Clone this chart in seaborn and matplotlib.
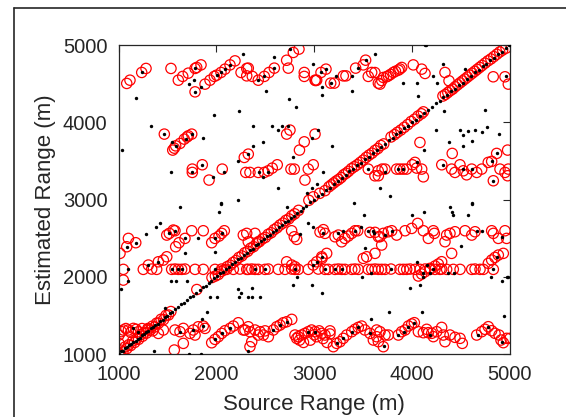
import matplotlib
matplotlib.use("Agg")
import matplotlib.pyplot as plt
from matplotlib.lines import Line2D
import numpy as np
import pandas as pd
import seaborn as sns

sns.set_theme(style="white")
plt.rcParams["font.family"] = ["Liberation Sans", "DejaVu Sans"]

# ── data (metres) ────────────────────────────────────────────────────────────
TICKS = [1000, 2000, 3000, 4000, 5000]
X_LABEL = "Source Range (m)"
Y_LABEL = "Estimated Range (m)"

# red open circles: estimates along the true range (diagonal)
red_diag = [
    (1005, 1010), (1025, 1050), (1045, 1030), (1065, 1090), (1085, 1070), (1105, 1120),
    (1125, 1110), (1145, 1170), (1165, 1150), (1185, 1200), (1205, 1190), (1225, 1250),
    (1245, 1230), (1265, 1280), (1285, 1270), (1305, 1320), (1325, 1310), (1345, 1360),
    (1370, 1350), (1390, 1400), (1410, 1400), (1435, 1450), (1460, 1445), (1485, 1500),
    (1510, 1505), (1535, 1550), (1800, 1835), (1955, 1990), (1990, 2010), (2020, 2030),
    (2050, 2070), (2080, 2090), (2110, 2130), (2140, 2150), (2170, 2185), (2200, 2210),
    (2230, 2250), (2260, 2270), (2290, 2310), (2320, 2330), (2350, 2370), (2380, 2390),
    (2410, 2430), (2440, 2455), (2470, 2490), (2500, 2510), (2530, 2550), (2560, 2570),
    (2590, 2610), (2620, 2635), (2650, 2670), (2680, 2695), (2710, 2730), (2740, 2750),
    (2770, 2790), (2800, 2815), (2840, 2860), (2945, 2990), (2990, 3035), (3055, 3080),
    (3110, 3115), (3150, 3165), (3175, 3190), (3200, 3215), (3225, 3240), (3250, 3260),
    (3275, 3285), (3300, 3320), (3325, 3340), (3350, 3365), (3380, 3400), (3410, 3425),
    (3440, 3450), (3470, 3480), (3500, 3510), (3530, 3545), (3560, 3575), (3590, 3600),
    (3620, 3635), (3650, 3660), (3680, 3700), (3710, 3720), (3785, 3810), (3820, 3840),
    (3850, 3870), (3885, 3900), (3920, 3935), (3955, 3970), (3990, 4010), (4025, 4040),
    (4060, 4080), (4095, 4110), (4115, 4135), (4315, 4340), (4340, 4360), (4365, 4385),
    (4390, 4410), (4415, 4430), (4440, 4460), (4465, 4485), (4490, 4510), (4515, 4535),
    (4540, 4560), (4565, 4585), (4590, 4610), (4615, 4635), (4640, 4660), (4665, 4685),
    (4690, 4710), (4715, 4735), (4745, 4765), (4775, 4795), (4805, 4820), (4835, 4850),
    (4865, 4880), (4895, 4910), (4925, 4935), (4960, 4960),
]

# red circles in the low band (~1100-1450 m)
red_band_low = [
    (1005, 1246), (1005, 1138), (1030, 1290), (1049, 1311), (1075, 1330), (1101, 1311),
    (1125, 1280), (1152, 1332), (1180, 1320), (1203, 1289), (1240, 1330), (1300, 1330),
    (1350, 1300), (1407, 1267), (1458, 1311), (1570, 1052), (1577, 1311), (1628, 1289),
    (1662, 1332), (1662, 1138), (1730, 1267), (1764, 1311), (1782, 1246), (1815, 1353),
    (1866, 1362), (1884, 1332), (1952, 1146), (1986, 1190), (2020, 1224), (2054, 1267),
    (2088, 1302), (2139, 1332), (2173, 1362), (2224, 1405), (2275, 1311), (2326, 1353),
    (2292, 1311), (2343, 1289), (2395, 1311), (2446, 1289), (2497, 1300), (2361, 1159),
    (2343, 1095), (2428, 1246), (2480, 1246), (2531, 1224), (2582, 1311), (2616, 1353),
    (2650, 1375), (2684, 1405), (2718, 1418), (2770, 1449), (2803, 1246), (2820, 1203),
    (2837, 1224), (2850, 1180), (2871, 1246), (2890, 1150), (2905, 1267), (2939, 1289),
    (2960, 1180), (2973, 1311), (3000, 1250), (3008, 1289), (3025, 1224), (3050, 1300),
    (3076, 1267), (3090, 1200), (3110, 1246), (3130, 1150), (3160, 1260), (3161, 1300),
    (3195, 1095), (3229, 1138), (3263, 1159), (3297, 1203), (3331, 1246), (3383, 1289),
    (3416, 1320), (3450, 1345), (3484, 1362), (3518, 1311), (3570, 1267), (3604, 1181),
    (3638, 1224), (3638, 1311), (3672, 1289), (3706, 1095), (3655, 1160), (3723, 1246),
    (3757, 1246), (3859, 1246), (3893, 1289), (3928, 1311), (3962, 1363), (3996, 1389),
    (4023, 1406), (4064, 1289), (4115, 1276), (4149, 1320), (4166, 1276), (4200, 1268),
    (4217, 1225), (4251, 1289), (4302, 1345), (4319, 1246), (4336, 1160), (4387, 1246),
    (4438, 1216), (4490, 1203), (4513, 1138), (4660, 1246), (4711, 1289), (4745, 1320),
    (4779, 1354), (4813, 1302), (4847, 1268), (4888, 1246), (4908, 1181), (4932, 1147),
    (4966, 1203), (5000, 1203),
]

# red circles on the ~2100 m line and the short rising runs through it
red_band_2100 = [
    (1049, 2096), (1253, 2096), (1339, 2100), (1390, 2096), (1543, 2096), (1577, 2100),
    (1611, 2096), (1645, 2096), (1679, 2100), (1782, 2096), (1866, 2096), (1986, 2096),
    (2054, 2100), (2105, 2096), (2173, 2096), (2241, 2100), (2310, 2096), (2326, 2096),
    (2361, 2100), (2395, 2096), (2428, 2096), (2497, 2096), (2531, 2100), (2633, 2096),
    (2701, 2096), (2770, 2100), (2803, 2096), (2837, 2096), (2939, 2096), (3041, 2100),
    (3110, 2096), (3144, 2096), (3212, 2096), (3246, 2100), (3281, 2096), (3314, 2096),
    (3383, 2096), (3416, 2100), (3450, 2096), (3552, 2096), (3587, 2096), (3621, 2100),
    (3655, 2096), (3689, 2096), (3723, 2096), (3784, 2100), (3876, 2096), (3911, 2096),
    (3945, 2096), (3979, 2100), (4030, 2096), (4081, 2096), (4132, 2100), (4183, 2096),
    (4234, 2096), (4285, 2096), (4302, 2100), (4353, 2096), (4421, 2096), (4490, 2096),
    (4609, 2096), (4643, 2100), (4694, 2096), (4728, 2096), (4830, 2096),
    (1049, 1957), (1305, 2152), (1407, 2194), (1458, 2216), (1493, 2259),
    (2718, 2194), (2770, 2152), (2803, 2130), (2990, 2152), (3025, 2194), (3076, 2259),
    (3127, 2303), (3501, 2238), (3536, 2259), (3621, 2303), (4064, 2010), (4098, 2036),
    (4132, 2066), (4183, 2109), (4234, 2139), (4268, 2165), (4302, 2195), (4404, 2303),
    (4779, 2174), (4813, 2217), (4847, 2251), (4881, 2281), (4932, 2303),
]

# red circles in the ~2300-2700 m band
red_band_2500 = [
    (1015, 2303), (1084, 2389), (1101, 2497), (1176, 2441), (1493, 2540), (1519, 2562),
    (1560, 2605), (1577, 2596), (1584, 2389), (1618, 2441), (1679, 2497), (1748, 2596),
    (1866, 2596), (1952, 2441), (1986, 2497), (2027, 2527), (2054, 2562), (2081, 2596),
    (2275, 2540), (2326, 2453), (2310, 2562), (2395, 2562), (2428, 2453), (2769, 2596),
    (2796, 2518), (2821, 2484), (3059, 2579), (3093, 2610), (3110, 2562), (3080, 2240),
    (3212, 2518), (3246, 2540), (3280, 2453), (3314, 2497), (3348, 2527), (3383, 2562),
    (3417, 2596), (3444, 2596), (3570, 2575), (3621, 2575), (3655, 2518), (3672, 2519),
    (3689, 2411), (3706, 2562), (3757, 2583), (3791, 2596), (3842, 2540), (3928, 2596),
    (3996, 2626), (4057, 2691), (4115, 2596), (4166, 2497), (4217, 2596), (4227, 2562),
    (4336, 2454), (4353, 2540), (4387, 2562), (4438, 2583), (4541, 2596), (4609, 2540),
    (4643, 2583), (4813, 2596), (4830, 2562), (4881, 2497), (4949, 2596), (4966, 2497),
]

# red circles in the ~3250-3600 m band
red_band_3400 = [
    (1754, 3394), (1754, 3351), (1856, 3450), (1925, 3252), (2060, 3394), (2285, 3545),
    (2300, 3351), (2326, 3588), (2343, 3351), (2428, 3351), (2490, 3351), (2530, 3372),
    (2571, 3407), (2622, 3450), (2762, 3394), (2796, 3394), (2905, 3252), (2939, 3394),
    (2990, 3450), (3552, 3394), (3620, 3307), (3654, 3372), (3655, 3308), (3693, 3394),
    (3723, 3394), (3842, 3394), (3876, 3394), (3910, 3394), (3944, 3394), (4002, 3450),
    (4029, 3481), (4046, 3407), (4098, 3394), (4115, 3294), (4303, 3450), (4404, 3394),
    (4438, 3351), (4489, 3450), (4523, 3372), (4557, 3320), (4609, 3394), (4660, 3351),
    (4711, 3394), (4778, 3481), (4813, 3494), (4830, 3243), (4898, 3394), (4949, 3351),
    (4983, 3394), (4976, 3308),
]

# red circles in the ~3600-3900 m band
red_band_3750 = [
    (1468, 3847), (1554, 3640), (1570, 3665), (1584, 3695), (1628, 3726), (1672, 3782),
    (1700, 3810), (1713, 3825), (1748, 3847), (2718, 3847), (2752, 3899), (2849, 3640),
    (2898, 3747), (3008, 3847), (4080, 3739), (4410, 3597), (4864, 3597), (4976, 3640),
]

# red circles in the top band (~4350-4950 m)
red_band_top = [
    (1084, 4503), (1117, 4545), (1237, 4645), (1281, 4697), (1536, 4697), (1611, 4545),
    (1656, 4594), (1713, 4636), (1782, 4697), (1799, 4710), (1843, 4743), (1782, 4394),
    (1884, 4494), (1935, 4545), (1979, 4594), (2003, 4610), (2047, 4645), (2088, 4688),
    (2139, 4743), (2190, 4795), (2252, 4645), (2310, 4697), (2786, 4904), (2844, 4947),
    (2326, 4701), (2310, 4601), (2367, 4594), (2428, 4545), (2490, 4594), (2538, 4645),
    (2592, 4701), (2718, 4803), (2735, 4701), (2898, 4645), (2898, 4594), (3008, 4545),
    (3015, 4540), (3025, 4545), (3069, 4645), (3120, 4688), (3168, 4507), (3205, 4507),
    (3297, 4601), (3324, 4601), (3423, 4701), (3501, 4743), (3525, 4804), (3587, 4645),
    (3552, 4594), (3655, 4506), (3620, 4644), (3672, 4494), (3690, 4540), (3706, 4580),
    (3740, 4590), (3757, 4601), (3780, 4620), (3808, 4645), (3830, 4660), (3860, 4675),
    (3875, 4690), (3894, 4710), (4012, 4743), (4098, 4688), (4132, 4632), (4336, 4645),
    (4377, 4537), (4829, 4589), (4949, 4589), (4983, 4494),
]

# black dots: second estimator, along the diagonal
black_diag = [
    (1005, 1000), (1030, 1035), (1050, 1045), (1070, 1075), (1090, 1085), (1110, 1115),
    (1130, 1125), (1150, 1160), (1175, 1170), (1195, 1200), (1215, 1210), (1240, 1245),
    (1260, 1255), (1285, 1290), (1305, 1300), (1330, 1335), (1350, 1345), (1375, 1380),
    (1400, 1395), (1425, 1430), (1450, 1445), (1475, 1480), (1500, 1495), (1525, 1530),
    (1550, 1545), (1580, 1585), (1610, 1605), (1640, 1645), (1670, 1665), (1700, 1700),
    (1730, 1735), (1760, 1755), (1790, 1795), (1830, 1825), (1860, 1865), (1890, 1885),
    (1920, 1925), (1950, 1945), (1980, 1985), (2010, 2005), (2040, 2045), (2070, 2065),
    (2100, 2105), (2130, 2125), (2160, 2165), (2190, 2185), (2220, 2225), (2250, 2245),
    (2280, 2285), (2310, 2305), (2340, 2345), (2370, 2365), (2400, 2405), (2430, 2425),
    (2460, 2465), (2490, 2485), (2520, 2525), (2550, 2545), (2580, 2585), (2610, 2605),
    (2640, 2645), (2670, 2665), (2700, 2705), (2730, 2725), (2760, 2765), (2790, 2785),
    (2820, 2825), (2860, 2855), (2890, 2895), (2920, 2915), (2960, 2965), (3000, 2995),
    (3040, 3045), (3080, 3075), (3120, 3125), (3160, 3155), (3200, 3205), (3240, 3235),
    (3280, 3285), (3320, 3315), (3360, 3365), (3400, 3395), (3440, 3445), (3480, 3475),
    (3520, 3525), (3560, 3555), (3600, 3605), (3640, 3635), (3680, 3685), (3720, 3715),
    (3760, 3765), (3800, 3795), (3840, 3845), (3880, 3875), (3920, 3925), (3960, 3955),
    (4000, 4005), (4040, 4035), (4080, 4085), (4120, 4115), (4160, 4165), (4200, 4195),
    (4240, 4245), (4280, 4275), (4320, 4325), (4360, 4355), (4400, 4405), (4440, 4435),
    (4480, 4485), (4520, 4515), (4560, 4565), (4600, 4595), (4640, 4645), (4680, 4675),
    (4720, 4725), (4760, 4755), (4800, 4805), (4840, 4835), (4880, 4885), (4920, 4915),
    (4960, 4965), (4990, 4995),
]

# black dots away from the diagonal
black_off = [
    (1237, 4645), (1177, 4319), (1720, 4494), (1775, 4545), (1840, 4451), (1782, 4697),
    (1979, 4097), (2231, 4141), (1329, 3950), (1039, 3644), (1468, 3847), (1543, 3743),
    (1584, 3695), (1685, 3790), (1748, 3847), (1866, 3795), (1536, 3351), (1969, 3294),
    (2081, 3351), (2224, 3494), (2218, 2997), (2047, 2950), (1754, 3351), (1856, 3450),
    (1782, 4394), (2047, 4645), (2139, 4743), (2275, 4890), (2003, 4610), (2088, 4688),
    (2752, 4947), (2592, 4850), (2428, 4545), (2490, 4594), (2592, 4701), (2990, 4752),
    (3069, 4645), (3120, 4688), (3168, 4507), (3076, 4451), (3082, 4351), (3218, 4594),
    (3383, 4594), (3389, 4399), (2504, 4399), (2742, 4300), (2814, 4200), (2378, 3950),
    (2571, 3950), (2626, 3900), (2674, 3950), (2728, 3950), (2378, 3695), (2473, 3743),
    (2320, 3590), (3184, 3695), (3035, 3899), (2975, 3795), (2786, 3545), (3092, 3351),
    (2626, 3148), (3025, 3200), (2973, 3148), (2922, 3090), (2440, 3351), (2480, 3294),
    (2530, 3351), (3552, 3394), (3620, 4890), (3525, 4804), (3450, 4701),
    (3910, 4503), (4047, 4503), (4063, 4342), (4216, 4594), (4251, 4503), (4318, 4752),
    (4540, 4688), (4329, 4148), (4745, 4157), (4241, 3899), (3962, 3957), (4489, 3899),
    (4523, 3838), (4574, 3890), (4643, 3899), (4711, 3869), (4762, 3941), (4888, 3847),
    (4377, 3739), (4523, 3695), (4609, 3760), (4121, 3640), (4864, 3597), (3672, 3148),
    (3774, 3048), (4609, 2950), (3723, 3350), (3853, 3394), (3910, 3394), (4046, 3481),
    (4319, 3450), (4523, 3394), (4609, 3394), (4820, 3494), (4830, 3243), (4955, 4600),
    (4131, 5000), (4145, 5000), (5000, 5000),
    (1628, 2898), (2047, 2941), (2027, 2841), (1424, 2691), (1380, 2647), (1278, 2553),
    (1026, 1841), (1101, 1949), (1679, 2303), (1815, 2497), (1986, 2324), (1536, 1949),
    (1584, 1949), (1697, 1949), (1935, 1741), (2003, 1741), (2224, 1837), (2252, 1793),
    (2231, 1741), (1366, 1043), (1720, 1000), (1843, 1000), (1475, 1591), (1856, 1449),
    (1900, 1548), (1084, 2389), (1176, 2441), (1519, 2562), (1577, 2596), (1679, 2497),
    (1986, 2497), (2054, 2562), (1101, 2096), (1305, 2152), (1407, 2194), (1645, 2096),
    (1611, 2096), (1543, 2096), (1986, 2096), (2139, 1332), (2054, 1267), (1986, 1190),
    (1764, 1311), (1866, 1362), (1628, 1289), (1152, 1332), (1203, 1289),
    (2725, 2898), (3409, 2950), (3511, 2799), (2939, 2691), (2990, 2647), (3478, 2647),
    (2821, 1992), (2786, 1893), (2973, 1893), (3076, 1793), (3491, 1992), (3580, 2050),
    (2320, 1741), (2361, 1741), (2446, 1741), (2367, 1850), (3580, 1449), (2326, 1044),
    (2854, 2553), (3093, 2562), (3246, 2562), (3297, 2596), (3417, 2596), (3553, 2596),
    (3604, 2596), (3614, 2562), (3518, 2368), (2395, 2096), (2497, 2096), (2803, 2096),
    (3110, 2096), (3212, 2096), (3281, 2096), (2990, 2152), (3025, 2194), (3076, 2259),
    (2582, 1311), (2650, 1375), (2718, 1418), (2939, 1289), (3008, 1289), (3229, 1138),
    (3297, 1203), (3383, 1289), (3450, 1345), (3570, 1267),
    (3996, 2799), (4125, 2842), (4387, 2898), (4411, 2842), (4421, 2799), (4568, 2799),
    (4609, 2941), (4500, 2398), (4660, 2596), (4711, 2596), (4915, 2519), (3979, 1850),
    (4081, 1893), (3764, 1548), (4098, 1548), (4943, 1492), (4806, 1992), (4915, 1949),
    (4966, 1992), (4980, 1992), (3784, 2096), (4047, 2195), (4149, 2153), (4217, 2096),
    (4115, 2053), (4115, 2001), (4183, 2053), (4432, 2053), (4370, 2053), (4830, 2096),
    (4864, 2251), (3713, 1104), (3859, 1246), (3921, 1289), (3962, 1345), (4023, 1398),
    (4183, 1246), (4670, 1246), (4779, 1354), (4915, 1160), (3723, 2540), (3791, 2596),
]

red_pts = red_diag + red_band_low + red_band_2100 + red_band_2500 + red_band_3400 + red_band_3750 + red_band_top
black_pts = black_diag + black_off
red_df = pd.DataFrame(red_pts, columns=["source", "estimate"])
black_df = pd.DataFrame(black_pts, columns=["source", "estimate"])

# ── figure ───────────────────────────────────────────────────────────────────
fig = plt.figure(figsize=(5.66, 4.17), dpi=100)
ax = fig.add_axes([0.2094, 0.151, 0.6916, 0.741])

sns.scatterplot(data=red_df, x="source", y="estimate", ax=ax, marker="o", s=55,
                color="red", linewidth=0.9, zorder=2)
ax.collections[-1].set_facecolor("none")
ax.collections[-1].set_edgecolor("red")

sns.scatterplot(data=black_df, x="source", y="estimate", ax=ax, marker="o", s=6,
                color="black", linewidth=0, zorder=3)

ax.set_xlim(TICKS[0], TICKS[-1])
ax.set_ylim(TICKS[0], TICKS[-1])
ax.set_xticks(TICKS)
ax.set_yticks(TICKS)
ax.tick_params(direction="in", top=True, right=True, length=5, width=0.8,
               labelsize=14.5, pad=8, colors="#262626")
ax.set_xlabel(X_LABEL, fontsize=16, color="#262626", labelpad=7)
ax.set_ylabel(Y_LABEL, fontsize=16, color="#262626", labelpad=5)
for sp in ax.spines.values():
    sp.set_color("#262626")
    sp.set_linewidth(0.9)
ax.grid(False)

# outer frame of the enclosing panel (top and left edges only visible)
fig.add_artist(Line2D([14 / 566, 1.0], [1 - 8 / 417, 1 - 8 / 417],
                      transform=fig.transFigure, color="#262626", lw=1.2))
fig.add_artist(Line2D([14 / 566, 14 / 566], [0.0, 1 - 8 / 417],
                      transform=fig.transFigure, color="#262626", lw=1.2))

fig.savefig("out.png", dpi=100)
